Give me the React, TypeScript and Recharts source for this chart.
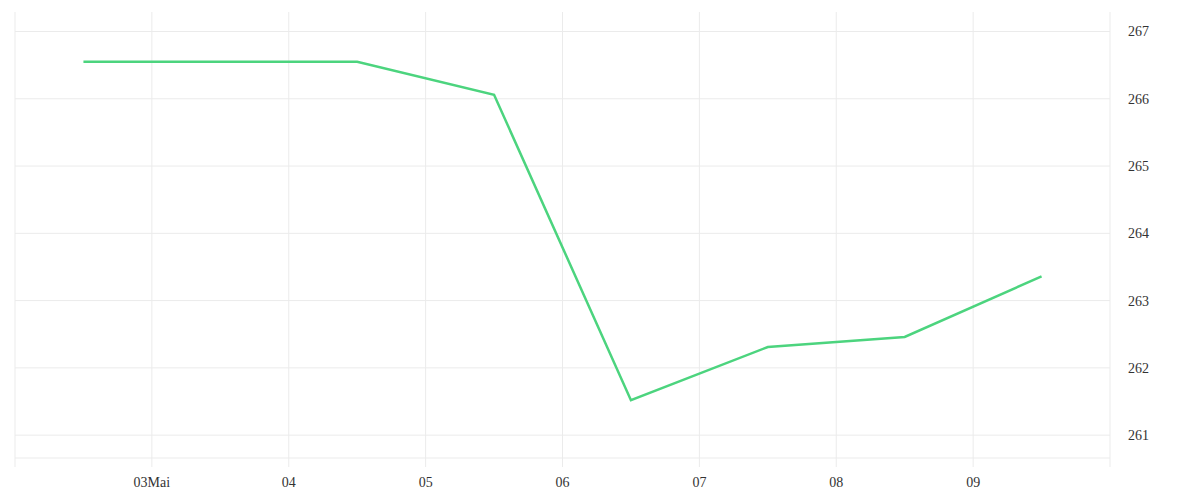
import * as React from "react"
import { LineChart, Line, XAxis, YAxis, CartesianGrid, ReferenceLine } from 'recharts';

// day of May (noon points) and the values
const days = [2.5, 3.5, 4.5, 5.5, 6.5, 7.5, 8.5, 9.5];
const values = [266.55, 266.55, 266.55, 266.06, 261.52, 262.31, 262.46, 263.36];

const dayTicks = [2, 3, 4, 5, 6, 7, 8, 9, 10];
const dayLabels = ['', '03Mai', '04', '05', '06', '07', '08', '09', ''];
const valueTicks = [261, 262, 263, 264, 265, 266, 267];

const Y_MIN = 260.66;
const Y_MAX = 267.29;

const data = days.map((d, i) => ({ day: d, value: values[i] }));

const GRID = '#ebebeb';

const App: React.FC = () => {
    return (
        <LineChart
            width={1184}
            height={484}
            data={data}
            margin={{ top: 4, right: 0, bottom: 0, left: 7 }}
        >
            {/* vertical lines only, horizontal ones drawn as reference lines */}
            <CartesianGrid stroke={GRID} strokeWidth={1} horizontal={false} />
            {[Y_MIN, ...valueTicks].map(v => (
                <ReferenceLine key={v} y={v} stroke={GRID} strokeWidth={1} />
            ))}
            <XAxis
                dataKey="day"
                type="number"
                domain={[2, 10]}
                ticks={dayTicks}
                tickFormatter={(v: number) => dayLabels[dayTicks.indexOf(v)] ?? ''}
                axisLine={false}
                tickLine={{ stroke: GRID }}
                tickSize={9}
                tickMargin={10}
                height={34}
                tick={{ fill: '#333', fontSize: 14 }}
                interval={0}
            />
            <YAxis
                orientation="right"
                domain={[Y_MIN, Y_MAX]}
                ticks={valueTicks}
                axisLine={false}
                tickLine={false}
                tickSize={0}
                tickMargin={18}
                width={82}
                tick={{ fill: '#333', fontSize: 14, textAnchor: 'start' }}
                interval={0}
            />
            <Line
                type="linear"
                dataKey="value"
                stroke="#4cd47e"
                strokeWidth={2.5}
                dot={false}
                isAnimationActive={false}
            />
        </LineChart>
    );
};

export default App;
